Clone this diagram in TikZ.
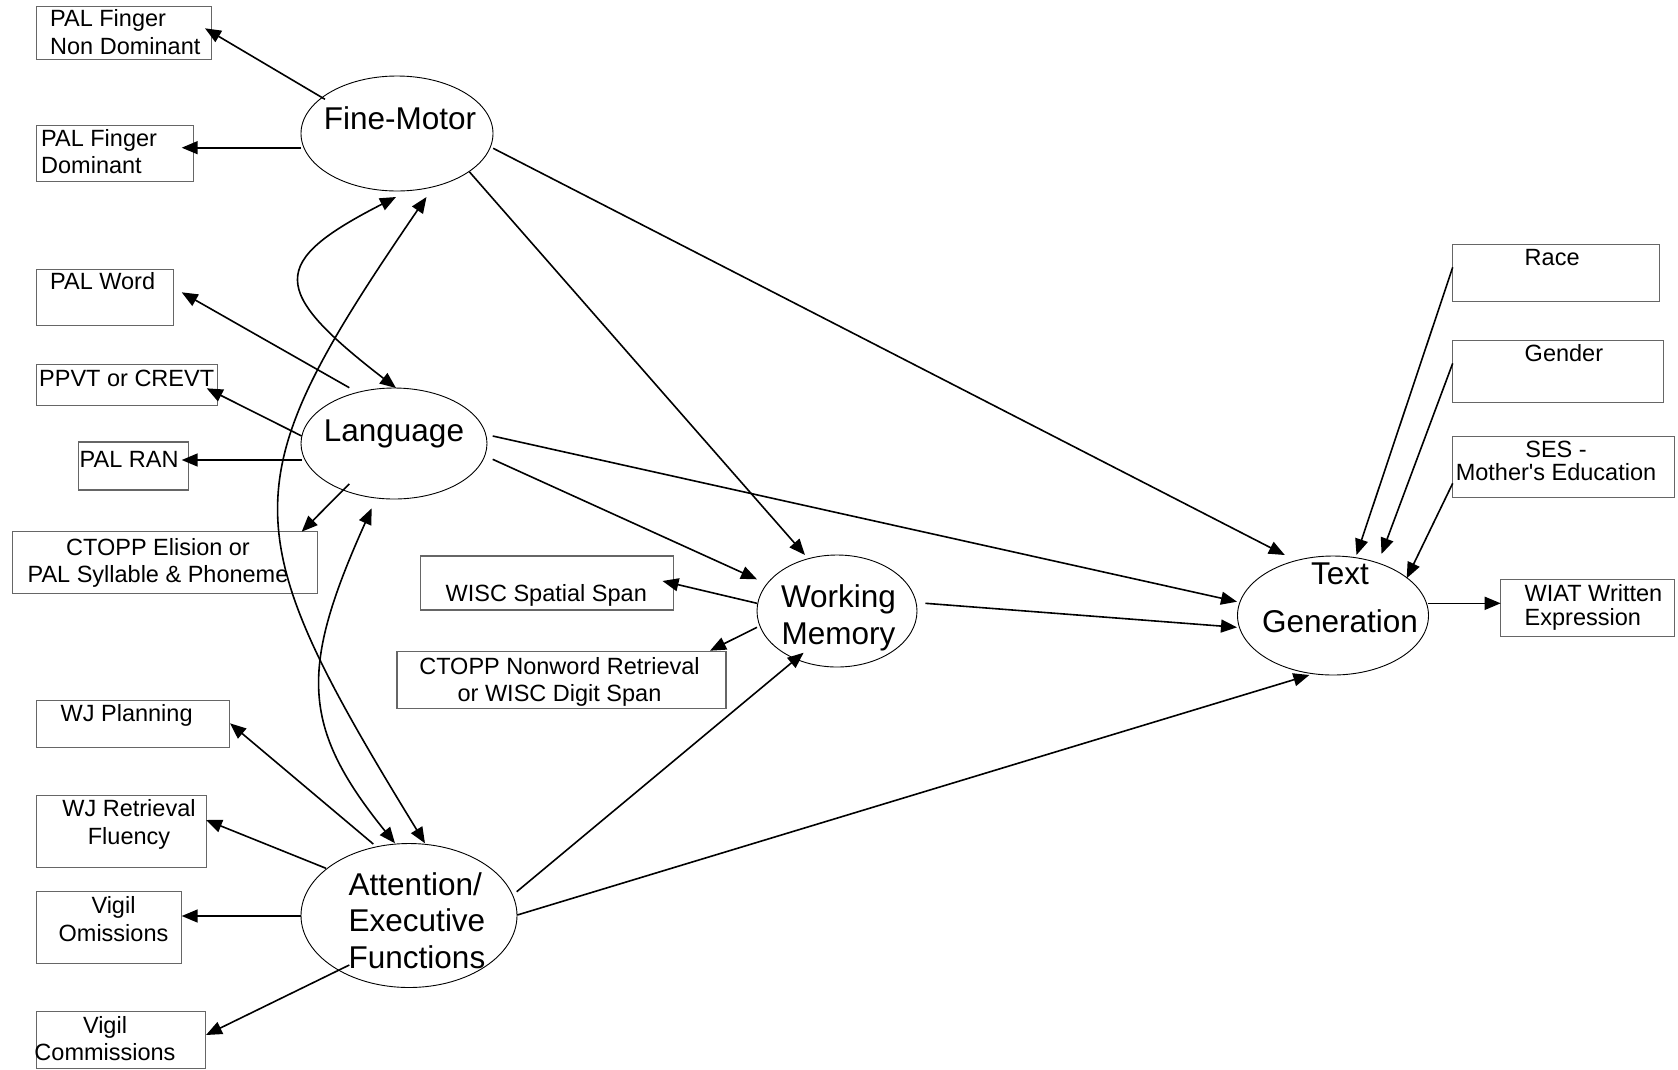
\documentclass[tikz,border=0pt]{standalone}
\usepackage{fontspec}
\setmainfont{Liberation Sans}[Ligatures=TeXOff]
\usetikzlibrary{arrows.meta,shapes.geometric}

\begin{document}
\begin{tikzpicture}[x=1pt,y=-1pt,
  latent/.style={ellipse, draw, line width=0.9pt, inner sep=0pt, outer sep=0pt},
  measure/.style={rectangle, draw=black!60, line width=1.1pt, inner sep=0pt, outer sep=0pt},
  boxtext/.style={inner sep=0pt, font=\fontsize{23.5}{27.3}\selectfont},
  lattext/.style={inner sep=0pt, font=\fontsize{31.5}{36.6}\selectfont},
  effect/.style={-{Triangle[length=16pt,width=13pt]}, line width=1.6pt},
  cov/.style={{Triangle[length=16pt,width=13pt]}-{Triangle[length=16pt,width=13pt]}, line width=1.6pt},
]
\useasboundingbox (0,0) rectangle (1678,1069);

% latent constructs
\node[latent, minimum width=192pt, minimum height=115pt] (fm)   at (397,133.5) {};
\node[latent, minimum width=186pt, minimum height=111pt] (lang) at (394,443.5) {};
\node[latent, minimum width=216pt, minimum height=144pt] (att)  at (409,915.5) {};
\node[latent, minimum width=160pt, minimum height=112pt] (wm)   at (837,611) {};
\node[latent, minimum width=191pt, minimum height=119pt] (tg)   at (1333,615.5) {};

% construct names (multi-line labels are placed by the baseline of their last line)
\node[lattext, anchor=base west] (fm-t) at (323.7,129.3) {Fine-Motor};
\node[lattext, anchor=base west] (lang-t) at (323.7,441) {Language};
\node[lattext, anchor=base, align=center] (wm-t) at (838.5,644) {Working\\Memory};
\node[lattext, anchor=base west, align=left] (att-t) at (348.5,968.5) {Attention/\\Executive\\Functions};
\node[lattext, anchor=base, align=center, font=\fontsize{31.5}{48.3}\selectfont] (tg-t) at (1340,632.3) {Text\\Generation};

% observed measures
\node[measure, minimum width=174.6pt, minimum height=52.6pt] (pfnd)    at (124,33) {};
\node[measure, minimum width=156.6pt, minimum height=56pt]   (pfd)     at (115,153.7) {};
\node[measure, minimum width=136.6pt, minimum height=56pt]   (palword) at (105,297.3) {};
\node[measure, minimum width=180.6pt, minimum height=40.7pt] (ppvt)    at (127,384.7) {};
\node[measure, minimum width=110.3pt, minimum height=48pt]   (palran)  at (133.2,466) {};
\node[measure, minimum width=304.6pt, minimum height=61.6pt] (ctoppel) at (165,562.5) {};
\node[measure, minimum width=252.7pt, minimum height=54pt]   (wiscsp)  at (547,583) {};
\node[measure, minimum width=329pt,   minimum height=56.6pt] (ctoppnw) at (561.5,680) {};
\node[measure, minimum width=192.6pt, minimum height=47.7pt] (wjplan)  at (133,723.9) {};
\node[measure, minimum width=170pt,   minimum height=72pt]   (wjret)   at (121.7,831.7) {};
\node[measure, minimum width=144.3pt, minimum height=71.6pt] (vigom)   at (108.9,927.5) {};
\node[measure, minimum width=168.3pt, minimum height=56.3pt] (vigcom)  at (120.9,1039.9) {};
\node[measure, minimum width=206.3pt, minimum height=57.3pt] (race)    at (1555.9,272.7) {};
\node[measure, minimum width=210.3pt, minimum height=62.7pt] (gender)  at (1557.9,371.4) {};
\node[measure, minimum width=221.6pt, minimum height=61.3pt] (ses)     at (1563.5,466.7) {};
\node[measure, minimum width=173.6pt, minimum height=57.4pt] (wiat)    at (1587.5,608) {};

\node[boxtext, anchor=base west, align=left] (pfnd-t) at (50,54) {PAL Finger\\Non Dominant};
\node[boxtext, anchor=base west, align=left] (pfd-t) at (41,173.3) {PAL Finger\\Dominant};
\node[boxtext, anchor=base west] (palword-t) at (50,289.3) {PAL Word};
\node[boxtext, anchor=base west] (ppvt-t) at (39,386) {PPVT or CREVT};
\node[boxtext, anchor=base west] (palran-t) at (79.5,467.3) {PAL RAN};
\node[boxtext, anchor=base, align=center] (ctoppel-t) at (158,582.7) {CTOPP Elision or\\PAL Syllable \& Phoneme};
\node[boxtext, anchor=base west] (wiscsp-t) at (445.5,601.7) {WISC Spatial Span};
\node[boxtext, anchor=base, align=center] (ctoppnw-t) at (559.5,701.7) {CTOPP Nonword Retrieval\\or WISC Digit Span};
\node[boxtext, anchor=base west] (wjplan-t) at (60.5,721.7) {WJ Planning};
\node[boxtext, anchor=base, align=center] (wjret-t) at (129,844) {WJ Retrieval\\Fluency};
\node[boxtext, anchor=base, align=center] (vigom-t) at (113.5,941) {Vigil\\Omissions};
\node[boxtext, anchor=base, align=center] (vigcom-t) at (105,1060.7) {Vigil\\Commissions};
\node[boxtext, anchor=base west] (race-t) at (1524.5,265) {Race};
\node[boxtext, anchor=base west] (gender-t) at (1524.5,361) {Gender};
\node[boxtext, anchor=base, align=center, font=\fontsize{23.5}{22.3}\selectfont] (ses-t) at (1556,480) {SES -\\Mother's Education};
\node[boxtext, anchor=base west, align=left, font=\fontsize{23.5}{24}\selectfont] (wiat-t) at (1524.5,625) {WIAT Written\\Expression};

% loadings of the constructs on their measures
\draw[effect] ([shift={(-72,-34.2)}]fm.center) -- ([shift={(81,-4.7)}]pfnd.center);
\draw[effect] ([shift={(-96,14.2)}]fm.center) -- ([shift={(66.7,-6)}]pfd.center);
\draw[effect] ([shift={(-44.7,-55.8)}]lang.center) -- ([shift={(76.7,-5)}]palword.center);
\draw[effect] ([shift={(-92.3,-7.5)}]lang.center) -- ([shift={(79.7,3.6)}]ppvt.center);
\draw[effect] ([shift={(-92.3,16.5)}]lang.center) -- ([shift={(48.5,-6)}]palran.center);
\draw[effect] ([shift={(-44.7,40.5)}]lang.center) -- ([shift={(136.7,-30.8)}]ctoppel.center);
\draw[effect] ([shift={(-35.7,-71.5)}]att.center) -- ([shift={(97,-0.6)}]wjplan.center);
\draw[effect] ([shift={(-83,-47.2)}]att.center) -- ([shift={(84.3,-11.7)}]wjret.center);
\draw[effect] ([shift={(-108,0.5)}]att.center) -- ([shift={(72.8,-11.5)}]vigom.center);
\draw[effect] ([shift={(-59.7,49.5)}]att.center) -- ([shift={(85.1,-4.9)}]vigcom.center);
\draw[effect] ([shift={(-80,-7.7)}]wm.center) -- ([shift={(115.5,-2)}]wiscsp.center);
\draw[effect] ([shift={(-80,16.3)}]wm.center) -- ([shift={(148.5,-29.3)}]ctoppnw.center);
\draw[effect] ([shift={(95.3,-12.2)}]tg.center) -- ([shift={(-86.8,-4.7)}]wiat.center);

% structural paths
\draw[effect] ([shift={(72.3,38.2)}]fm.center) -- ([shift={(-32,-56)}]wm.center);
\draw[effect] ([shift={(98.7,15.8)}]lang.center) -- ([shift={(-80,-31.7)}]wm.center);
\draw[effect] ([shift={(107.7,-23.8)}]att.center) -- ([shift={(-33.4,41.7)}]wm.center);
\draw[effect] ([shift={(96.2,14.8)}]fm.center) -- ([shift={(-48.2,-60.5)}]tg.center);
\draw[effect] ([shift={(98.7,-7.5)}]lang.center) -- ([shift={(-96,-13.8)}]tg.center);
\draw[effect] ([shift={(88.4,-7.7)}]wm.center) -- ([shift={(-96,11.8)}]tg.center);
\draw[effect] ([shift={(108.3,-0.5)}]att.center) -- ([shift={(-23.6,59.5)}]tg.center);

% covariates
\draw[effect] ([shift={(-103.2,-5.4)}]race.center) -- ([shift={(23.5,-60.5)}]tg.center);
\draw[effect] ([shift={(-105.2,-8.1)}]gender.center) -- ([shift={(48.5,-61.5)}]tg.center);
\draw[effect] ([shift={(-110.8,16.6)}]ses.center) -- ([shift={(73.7,-37.2)}]tg.center);

% correlations among the left-hand constructs
\draw[cov] ([shift={(-1,63.5)}]fm.center) .. controls (269,262) and (269,290) .. ([shift={(2,-55.5)}]lang.center);
\draw[cov] ([shift={(29.5,63.5)}]fm.center) .. controls (231,483) and (231,527) .. ([shift={(16,-72.2)}]att.center);
\draw[cov] ([shift={(-22.3,64.8)}]lang.center) .. controls (300,668) and (300,726) .. ([shift={(-14,-72.2)}]att.center);
\end{tikzpicture}
\end{document}
